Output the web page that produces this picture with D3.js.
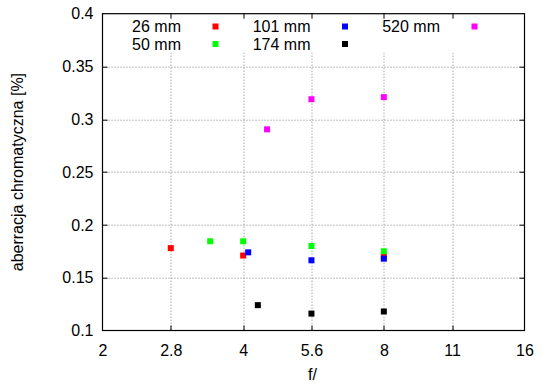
<!DOCTYPE html>
<html>
<head>
<meta charset="utf-8">
<script src="https://cdn.jsdelivr.net/npm/d3@7"></script>
<style>
  body { margin: 0; background: #fff; }
  text { font-family: "Liberation Sans", Arial, sans-serif; }
</style>
</head>
<body>
<div id="chart"></div>
<script>
// series (focal length -> colour)
var seriesNames = ["26 mm", "50 mm", "101 mm", "174 mm", "520 mm"];
var seriesColors = ["#ff0000", "#00ff00", "#0000ff", "#000000", "#ff00ff"];

// f-number and aberration [%] per series
var fStops26 = [2.8, 4, 8];
var aberr26 = [0.178, 0.171, 0.170];
var fStops50 = [3.4, 4, 5.6, 8];
var aberr50 = [0.1845, 0.1845, 0.180, 0.175];
var fStops101 = [4.1, 5.6, 8];
var aberr101 = [0.174, 0.1665, 0.168];
var fStops174 = [4.3, 5.6, 8];
var aberr174 = [0.124, 0.116, 0.118];
var fStops520 = [4.5, 5.6, 8];
var aberr520 = [0.2905, 0.319, 0.321];

var xTickVals = [2, 2.8, 4, 5.6, 8, 11.2, 16];
var xTickLabels = ["2", "2.8", "4", "5.6", "8", "11", "16"];
var yTickVals = [0.1, 0.15, 0.2, 0.25, 0.3, 0.35, 0.4];

var allX = [fStops26, fStops50, fStops101, fStops174, fStops520];
var allY = [aberr26, aberr50, aberr101, aberr174, aberr520];

var svgWidth = 550, svgHeight = 389;
var margin = { top: 13.7, left: 102.5, right: 25.5, bottom: 58.5 };
var width = svgWidth - margin.left - margin.right;
var height = svgHeight - margin.top - margin.bottom;

var svg = d3.select("#chart").append("svg")
  .attr("width", svgWidth)
  .attr("height", svgHeight);

var chartGroup = svg.append("g")
  .attr("transform", `translate(${margin.left}, ${margin.top})`);

var xScale = d3.scaleLog().base(2).domain([2, 16]).range([0, width]);
var yScale = d3.scaleLinear().domain([0.1, 0.4]).range([height, 0]);

// grid
var grid = chartGroup.append("g");
grid.selectAll(".gx")
  .data(xTickVals.slice(1, -1))
  .enter().append("line")
  .attr("x1", d => Math.round(xScale(d)) + 0.5)
  .attr("x2", d => Math.round(xScale(d)) + 0.5)
  .attr("y1", 0).attr("y2", height)
  .attr("stroke", "#808080").attr("stroke-dasharray", "1,2");
grid.selectAll(".gy")
  .data(yTickVals.slice(1, -1))
  .enter().append("line")
  .attr("y1", d => Math.round(yScale(d)) + 0.5)
  .attr("y2", d => Math.round(yScale(d)) + 0.5)
  .attr("x1", 0).attr("x2", width)
  .attr("stroke", "#808080").attr("stroke-dasharray", "1,2");

// legend (opaque box)
chartGroup.append("rect")
  .attr("x", 8).attr("y", 0.5)
  .attr("width", width - 16).attr("height", 38.5)
  .attr("fill", "#fff");

// inward tick marks, mirrored on all sides
var tickLen = 5;
var ticks = chartGroup.append("g").attr("stroke", "#000");
xTickVals.slice(1, -1).forEach(function(d) {
  var x = Math.round(xScale(d)) + 0.5;
  ticks.append("line").attr("x1", x).attr("x2", x).attr("y1", 0).attr("y2", tickLen);
  ticks.append("line").attr("x1", x).attr("x2", x).attr("y1", height).attr("y2", height - tickLen);
});
yTickVals.slice(1, -1).forEach(function(d) {
  var y = Math.round(yScale(d)) + 0.5;
  ticks.append("line").attr("y1", y).attr("y2", y).attr("x1", 0).attr("x2", tickLen);
  ticks.append("line").attr("y1", y).attr("y2", y).attr("x1", width).attr("x2", width - tickLen);
});

// axes
var xAxis = d3.axisBottom(xScale)
  .tickValues(xTickVals)
  .tickFormat((d, i) => xTickLabels[i])
  .tickSize(0).tickPadding(14);
var yAxis = d3.axisLeft(yScale)
  .tickValues(yTickVals)
  .tickFormat(d => d3.format("")(+d.toFixed(2)))
  .tickSize(0).tickPadding(9);

var gx = chartGroup.append("g")
  .attr("transform", `translate(0, ${height})`)
  .call(xAxis);
var gy = chartGroup.append("g").call(yAxis);
[gx, gy].forEach(g => {
  g.select(".domain").remove();
  g.selectAll("text").attr("font-size", 16).attr("fill", "#000")
    .attr("font-family", "Liberation Sans, Arial, sans-serif");
});

var legendPos = [[0, 0], [0, 1], [1, 0], [1, 1], [2, 0]];
var legend = chartGroup.append("g");
seriesNames.forEach(function(name, i) {
  var col = legendPos[i][0], row = legendPos[i][1];
  var tx = 78.5 + col * 129.5;
  var ty = 12.8 + row * 17.5;
  legend.append("text")
    .attr("x", tx).attr("y", ty)
    .attr("dy", "0.35em")
    .attr("text-anchor", "end")
    .attr("font-size", 16)
    .text(name);
  legend.append("rect")
    .attr("x", tx + 31.5).attr("y", ty - 3)
    .attr("width", 6).attr("height", 6)
    .attr("fill", seriesColors[i]);
});

// points
seriesNames.forEach(function(name, i) {
  var pts = allX[i].map((x, j) => ({ f: x, v: allY[i][j] }));
  chartGroup.selectAll(".s" + i)
    .data(pts)
    .enter().append("rect")
    .attr("class", "s" + i)
    .attr("x", d => xScale(d.f) - 3)
    .attr("y", d => yScale(d.v) - 3)
    .attr("width", 6).attr("height", 6)
    .attr("fill", seriesColors[i]);
});

// border
chartGroup.append("rect")
  .attr("x", 0).attr("y", 0)
  .attr("width", width).attr("height", height)
  .attr("fill", "none").attr("stroke", "#000").attr("stroke-width", 1.2);

// axis titles
svg.append("text")
  .attr("x", margin.left + width / 2 - 1)
  .attr("y", 380)
  .attr("text-anchor", "middle")
  .attr("font-size", 16)
  .text("f/");
svg.append("text")
  .attr("transform", `translate(23, ${margin.top + height / 2}) rotate(-90)`)
  .attr("text-anchor", "middle")
  .attr("font-size", 16)
  .text("aberracja chromatyczna [%]");
</script>
</body>
</html>
